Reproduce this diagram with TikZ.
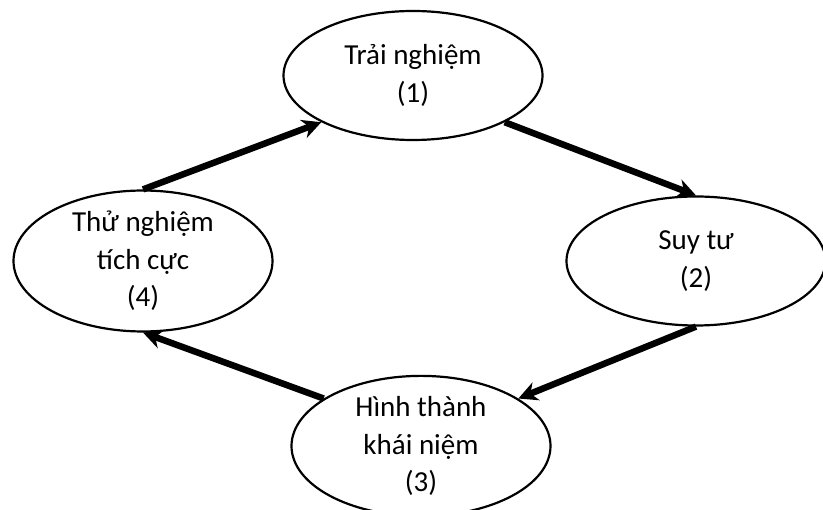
\documentclass[tikz,border=0pt]{standalone}
\usepackage{fontspec}
\setmainfont{Carlito}
\usetikzlibrary{arrows.meta,shapes.geometric}
\begin{document}
\begin{tikzpicture}[x=1pt,y=-1pt,
  stage/.style={ellipse,draw=black,line width=2.2pt,minimum width=259pt,minimum height=129pt,inner sep=0pt,align=center,font=\fontsize{29}{37.5}\selectfont},
  flow/.style={line width=6.5pt,-{Stealth[length=19pt,width=19pt,inset=6pt]}}]
\useasboundingbox (0,0) rectangle (823,510);
\node[stage] (e1) at (413,75.5) {Trải nghiệm\\(1)};
\node[stage] (e2) at (696,261) {Suy tư\\(2)};
\node[stage] (e3) at (421,446) {Hình thành\\khái niệm\\(3)};
\node[stage] (e4) at (143,261) {Thử nghiệm\\tích cực\\(4)};
\draw[flow] (e4.north) -- (e1.207);
\draw[flow] (e1.333) -- (e2.north);
\draw[flow] (e2.south) -- (e3.26);
\draw[flow] (e3.154) -- (e4.south);
\end{tikzpicture}
\end{document}
